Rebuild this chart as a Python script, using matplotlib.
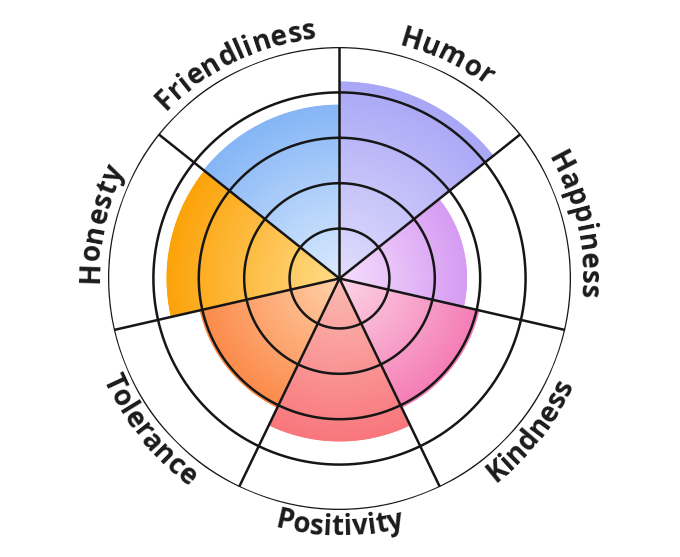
import numpy as np
import matplotlib.pyplot as plt
from matplotlib.colors import LinearSegmentedColormap

# Datos del gráfico (sectores en sentido horario desde arriba)
categories = ['Humor', 'Happiness', 'Kindness', 'Positivity', 'Tolerance', 'Honesty', 'Friendliness']
values = [4.23, 2.70, 3.05, 3.48, 3.05, 3.70, 3.72]
inner_colors = ['#e2defc', '#f7dffc', '#fcd6e8', '#fbbcb3', '#ffd2aa', '#ffdc8a', '#dcebfe']
outer_colors = ['#a9a7f6', '#d69cf3', '#f47db5', '#f8777d', '#fb8a4a', '#fca30a', '#86b6f6']
ring_levels = [1, 2, 3, 4, 5]

r_min = -0.1
n = len(categories)
width = 2 * np.pi / n
line_color = '#161616'

fig = plt.figure(figsize=(6.8, 5.57), dpi=100)
ax = fig.add_axes([0.1588, 0.0844, 0.6809, 0.8312], projection='polar')
ax.set_theta_zero_location('N')
ax.set_theta_direction(-1)
ax.set_ylim(r_min, 5)
ax.set_xticks([])
ax.set_yticks([])
ax.grid(False)
ax.spines['polar'].set_visible(False)

# Sectores con degradado radial
for i in range(n):
    th = np.linspace(i * width, (i + 1) * width, 80)
    rr = np.linspace(r_min, values[i], 80)
    T, R = np.meshgrid(th, rr)
    C = (R - r_min) / (values[i] - r_min)
    cmap = LinearSegmentedColormap.from_list('c%d' % i, [inner_colors[i], outer_colors[i]])
    ax.pcolormesh(T, R, C, cmap=cmap, shading='gouraud', vmin=0, vmax=1, zorder=1)

# Anillos y radios
circ = np.linspace(0, 2 * np.pi, 500)
for lvl in ring_levels:
    ax.plot(circ, np.full_like(circ, lvl), color=line_color, lw=1.8, zorder=3)
for i in range(n):
    ax.plot([i * width, i * width], [r_min, 5], color=line_color, lw=1.8, zorder=3,
            solid_capstyle='butt')

# Etiquetas curvas alrededor del círculo
cx, cy = 339.5, 278.5  # centro en píxeles
fs = 20
renderer = fig.canvas.get_renderer()


def char_width(ch):
    t = fig.text(0, 0, ch, fontsize=fs, fontweight='bold', family='Open Sans')
    w = t.get_window_extent(renderer).width
    t.remove()
    return w


def curved_label(label, mid_deg, top, track=0.3):
    widths = [char_width(ch) for ch in label]
    total = sum(widths) + track * (len(label) - 1)
    rb = 241.0 if top else 257.0
    mid = np.deg2rad(mid_deg)
    s = 0.0
    for ch, w in zip(label, widths):
        pos = s + w / 2 - total / 2
        if top:
            ang = mid - pos / rb
            rot = np.rad2deg(ang) - 90
        else:
            ang = mid + pos / rb
            rot = np.rad2deg(ang) + 90
        x = cx + rb * np.cos(ang)
        y = cy + rb * np.sin(ang)
        fig.text(x / 680, y / 557, ch, fontsize=fs, fontweight='bold', family='Open Sans',
                 color='#1b1b1b', rotation=rot, rotation_mode='anchor',
                 ha='center', va='baseline')
        s += w + track


for i, cat in enumerate(categories):
    mid_deg = 90 - np.rad2deg((i + 0.5) * width)
    a = (mid_deg + 180) % 360 - 180
    curved_label(cat, mid_deg, top=(a > 0))

fig.savefig('out.png', dpi=100, facecolor='white')
